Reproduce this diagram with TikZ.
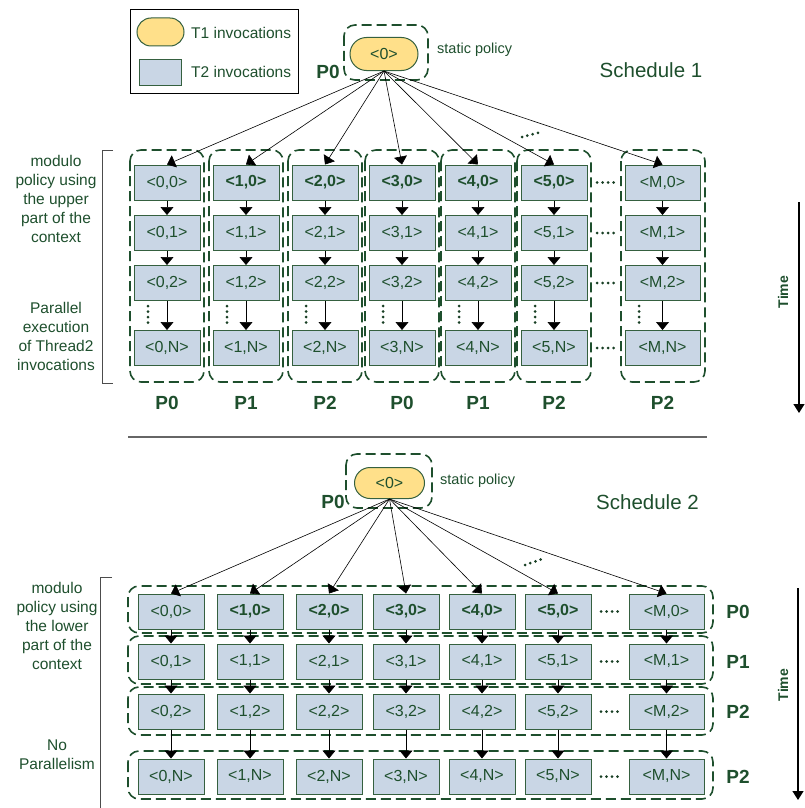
\documentclass[tikz,border=0pt]{standalone}
\usepackage{fontspec}
\setmainfont{Liberation Sans}
\usetikzlibrary{arrows.meta,shapes.misc}
\definecolor{dg}{HTML}{1E4F2D}
\definecolor{bf}{HTML}{C9D6E5}
\definecolor{bd}{HTML}{35603F}
\definecolor{yl}{HTML}{FFE08A}
\begin{document}
\begin{tikzpicture}[x=1pt,y=-1pt,
 tbox/.style={draw=bd, fill=bf, line width=1pt, minimum width=66pt, minimum height=35pt, inner sep=0pt, font=\fontsize{16}{18}\selectfont, text=dg},
 tone/.style={rounded rectangle, draw=bd, fill=yl, line width=1pt, minimum width=68pt, minimum height=33pt, inner sep=0pt, font=\fontsize{16}{18}\selectfont, text=dg},
 grp/.style={draw=dg, line width=1.6pt, dash pattern=on 10pt off 5pt, rounded corners=11pt},
 arr/.style={-{Triangle[width=13pt,length=8pt]}, line width=0.6pt},
 plab/.style={font=\fontsize{19}{21}\selectfont\bfseries, text=dg},
 side/.style={align=center, font=\fontsize{15.5}{19}\selectfont, text=dg},
 txt/.style={font=\fontsize{15.5}{18}\selectfont, text=dg},
 dotline/.style={line width=3pt, dash pattern=on 0pt off 5.5pt, line cap=round, draw=dg!80!black},
 timearr/.style={-{Triangle[width=11pt,length=9pt]}, line width=1.3pt},
 brk/.style={line width=1pt, draw=black!70}
]
\useasboundingbox (0,0) rectangle (804,808);

% ---------------- Legend
\node[draw, line width=1pt, minimum width=168pt, minimum height=83pt, inner sep=0pt] (legend) at (214,51.5) {};
\node[tone, minimum width=47pt, minimum height=28pt] (lg1) at (160.5,32) {};
\node[tbox, minimum width=42pt, minimum height=25pt] (lg2) at (160,72.5) {};
\node[txt, anchor=west, inner sep=0pt] (lt1) at (191,33) {T1 invocations};
\node[txt, anchor=west, inner sep=0pt] (lt2) at (191,72) {T2 invocations};

% ---------------- Schedule 1
\node[font=\fontsize{20.5}{24}\selectfont, text=dg] (s1) at (651,70) {Schedule 1};
\draw[grp] (344,25) rectangle (428,80);
\node[tone] (t1a) at (384,54) {<0>};
\node[plab] (p0a) at (328,72) {P0};
\node[txt, anchor=west, inner sep=0pt, font=\fontsize{14.5}{17}\selectfont] (sp1) at (437,50) {static policy};

\node[tbox] (a0-0) at (167,182.5) {<0,0>};
\foreach \i/\x in {1/246,2/325,3/402,4/478,5/554}{
  \node[tbox] (a\i-0) at (\x,182.5) {\textbf{<\i,0>}};
}
\foreach \i/\x in {0/167,1/246,2/325,3/402,4/478,5/554}{
  \node[tbox] (a\i-1) at (\x,233) {<\i,1>};
  \node[tbox] (a\i-2) at (\x,283) {<\i,2>};
  \node[tbox] (a\i-N) at (\x,348) {<\i,N>};
  \draw[grp] (\x-37,150) rectangle (\x+37,382);
  \draw[dotline] (\x-19,306) -- (\x-19,327);
}
\node[tbox, minimum width=75pt] (aM-0) at (662.5,182.5) {<M,0>};
\node[tbox, minimum width=75pt] (aM-1) at (662.5,233) {<M,1>};
\node[tbox, minimum width=75pt] (aM-2) at (662.5,283) {<M,2>};
\node[tbox, minimum width=75pt] (aM-N) at (662.5,348) {<M,N>};
\draw[grp] (621,150) rectangle (705,382);
\draw[dotline] (639,306) -- (639,327);

\foreach \i in {0,1,2,3,4,5,M}{
  \draw[arr] (t1a.south) -- (a\i-0.north);
  \draw[arr] (a\i-0.south) -- (a\i-1.north);
  \draw[arr] (a\i-1.south) -- (a\i-2.north);
  \draw[arr] (a\i-2.south) -- (a\i-N.north);
}
\foreach \y in {182.5,233,283,348}{
  \draw[dotline] (597,\y) -- (616,\y);
}
\draw[dotline] (522,137) -- (541,132);

\foreach \t/\x in {0/167,1/246,2/325,0/402,1/478,2/554,2/662.5}{
  \node[plab] at (\x,403) {P\t};
}

\draw[brk] (113,150) -- (102,150) -- (102,383) -- (113,383);
\node[side] (l1a) at (56,199) {modulo\\policy using\\the upper\\part of the\\context};
\node[side] (l1b) at (56,336.5) {Parallel\\execution\\of Thread2\\invocations};

\coordinate (ta1) at (799,202);
\coordinate (tb1) at (799,413);
\draw[timearr] (ta1) -- (tb1);
\node[rotate=90, font=\fontsize{14}{16}\selectfont\bfseries, text=dg] (tm1) at (783,292) {Time};

% ---------------- Separator
\coordinate (sepa) at (128,437);
\coordinate (sepb) at (707,437);
\draw[line width=1.3pt, draw=black!60] (sepa) -- (sepb);

% ---------------- Schedule 2
\node[font=\fontsize{20.5}{24}\selectfont, text=dg] (s2) at (647.5,502) {Schedule 2};
\draw[grp] (346,454) rectangle (432,508);
\node[tone, minimum width=70pt, minimum height=31pt] (t1b) at (389.5,483) {<0>};
\node[plab] (p0b) at (333,502) {P0};
\node[txt, anchor=west, inner sep=0pt, font=\fontsize{14.5}{17}\selectfont] (sp2) at (440,481) {static policy};

\draw[grp] (128,586) rectangle (713,633);
\draw[grp] (128,636) rectangle (713,684);
\draw[grp] (128,687) rectangle (713,735);
\draw[grp] (128,751) rectangle (713,799);

\node[tbox] (b0-0) at (171,611.5) {<0,0>};
\foreach \i/\x in {1/250,2/329,3/406,4/482,5/558}{
  \node[tbox] (b\i-0) at (\x,611.5) {\textbf{<\i,0>}};
}
\foreach \i/\x in {0/171,1/250,2/329,3/406,4/482,5/558}{
  \node[tbox] (b\i-1) at (\x,661.5) {<\i,1>};
  \node[tbox] (b\i-2) at (\x,711.5) {<\i,2>};
  \node[tbox] (b\i-N) at (\x,776.5) {<\i,N>};
}
\node[tbox, minimum width=75pt] (bM-0) at (666.5,611.5) {<M,0>};
\node[tbox, minimum width=75pt] (bM-1) at (666.5,661.5) {<M,1>};
\node[tbox, minimum width=75pt] (bM-2) at (666.5,711.5) {<M,2>};
\node[tbox, minimum width=75pt] (bM-N) at (666.5,776.5) {<M,N>};

\foreach \i in {0,1,2,3,4,5,M}{
  \draw[arr] (t1b.south) -- (b\i-0.north);
  \draw[arr] (b\i-0.south) -- (b\i-1.north);
  \draw[arr] (b\i-1.south) -- (b\i-2.north);
  \draw[arr] (b\i-2.south) -- (b\i-N.north);
}
\foreach \y in {611.5,661.5,711.5,776.5}{
  \draw[dotline] (601,\y) -- (620,\y);
}
\draw[dotline] (525,565) -- (545,558);

\foreach \t/\y in {0/611.5,1/661.5,2/711.5,2/776.5}{
  \node[plab] at (738,\y) {P\t};
}

\draw[brk] (112,577) -- (100,577) -- (100,808);
\node[side] (l2a) at (57,625.5) {modulo\\policy using\\the lower\\part of the\\context};
\node[side] (l2b) at (57,754.5) {No\\Parallelism};

\coordinate (ta2) at (798,588);
\coordinate (tb2) at (798,800);
\draw[timearr] (ta2) -- (tb2);
\node[rotate=90, font=\fontsize{14}{16}\selectfont\bfseries, text=dg] (tm2) at (783,685) {Time};
\end{tikzpicture}
\end{document}
